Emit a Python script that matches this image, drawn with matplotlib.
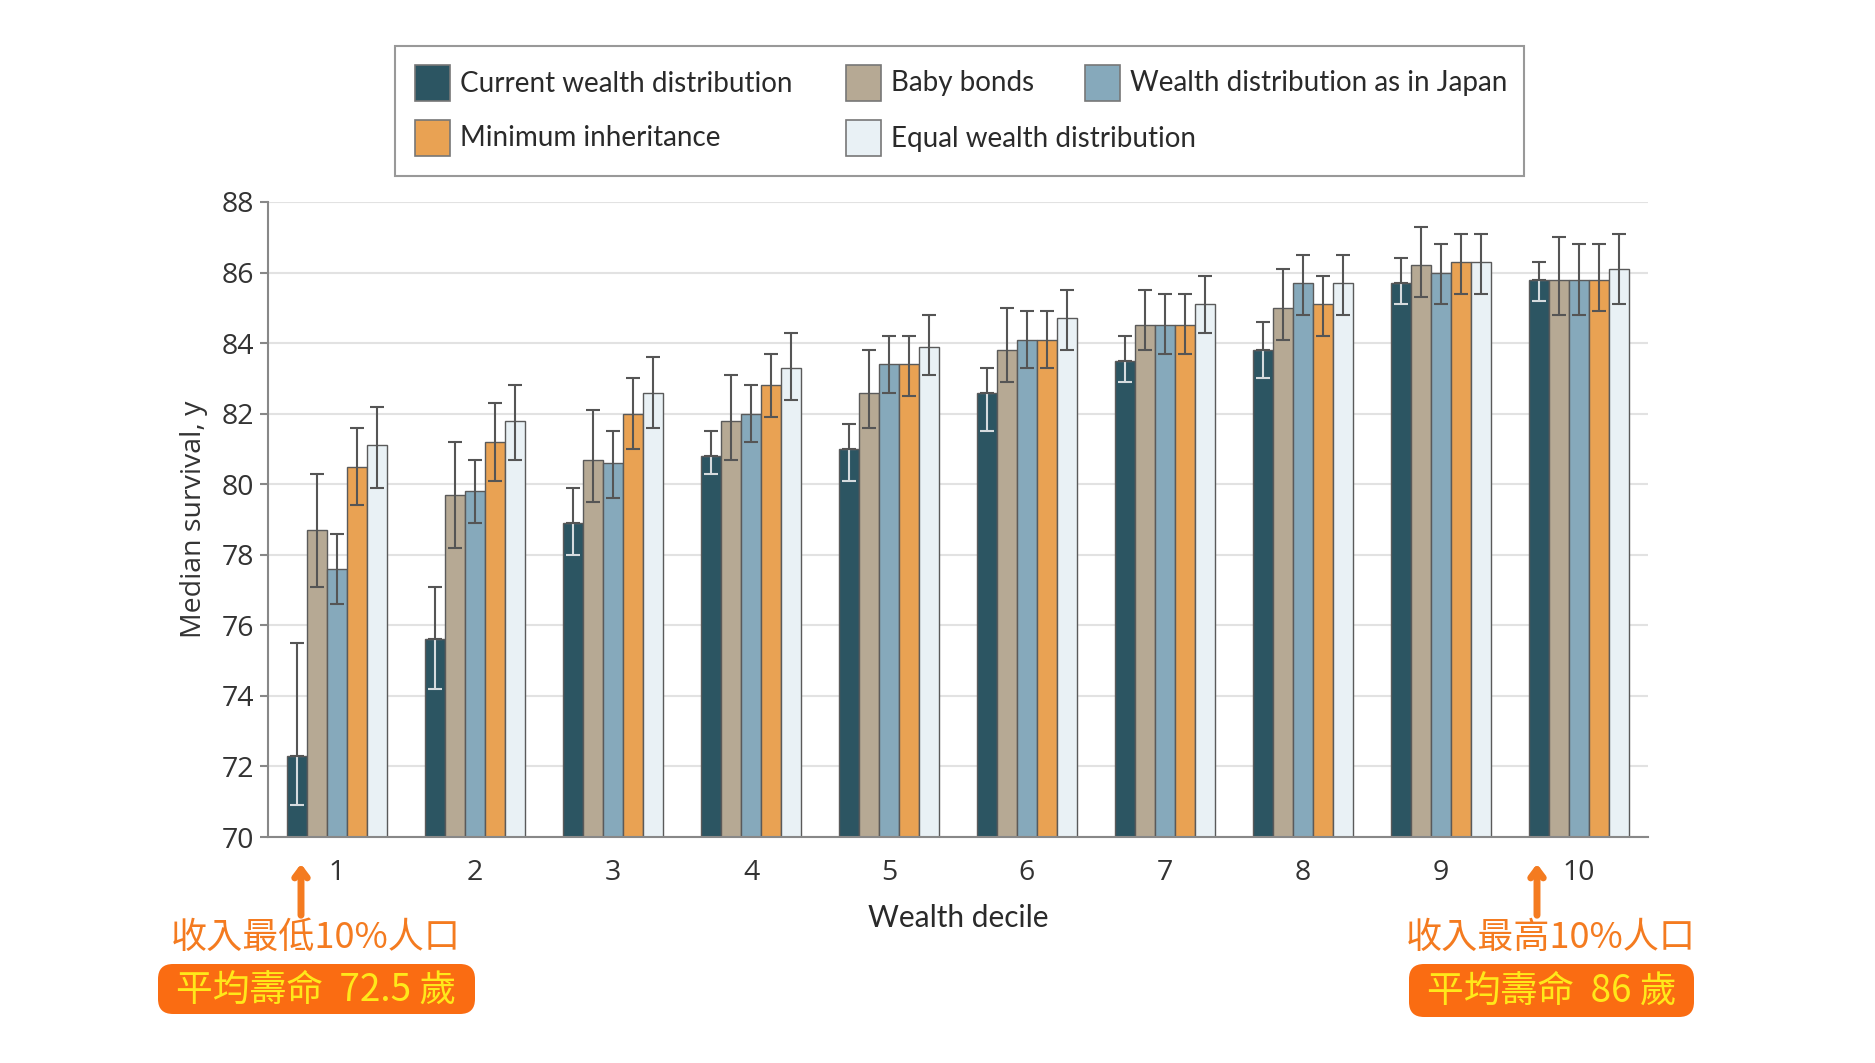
import matplotlib.pyplot as plt
import numpy as np
from matplotlib.patches import Rectangle, FancyBboxPatch

# Data
deciles = [1, 2, 3, 4, 5, 6, 7, 8, 9, 10]
series_names = ["Current wealth distribution", "Baby bonds", "Wealth distribution as in Japan",
                "Minimum inheritance", "Equal wealth distribution"]

current = [72.3, 75.6, 78.9, 80.8, 81.0, 82.6, 83.5, 83.8, 85.7, 85.8]
current_lo = [70.9, 74.2, 78.0, 80.3, 80.1, 81.5, 82.9, 83.0, 85.1, 85.2]
current_hi = [75.5, 77.1, 79.9, 81.5, 81.7, 83.3, 84.2, 84.6, 86.4, 86.3]

baby = [78.7, 79.7, 80.7, 81.8, 82.6, 83.8, 84.5, 85.0, 86.2, 85.8]
baby_lo = [77.1, 78.2, 79.5, 80.7, 81.6, 82.9, 83.8, 84.1, 85.3, 84.8]
baby_hi = [80.3, 81.2, 82.1, 83.1, 83.8, 85.0, 85.5, 86.1, 87.3, 87.0]

japan = [77.6, 79.8, 80.6, 82.0, 83.4, 84.1, 84.5, 85.7, 86.0, 85.8]
japan_lo = [76.6, 78.9, 79.6, 81.2, 82.6, 83.3, 83.7, 84.8, 85.1, 84.8]
japan_hi = [78.6, 80.7, 81.5, 82.8, 84.2, 84.9, 85.4, 86.5, 86.8, 86.8]

mininh = [80.5, 81.2, 82.0, 82.8, 83.4, 84.1, 84.5, 85.1, 86.3, 85.8]
mininh_lo = [79.4, 80.1, 81.0, 81.9, 82.5, 83.3, 83.7, 84.2, 85.4, 84.9]
mininh_hi = [81.6, 82.3, 83.0, 83.7, 84.2, 84.9, 85.4, 85.9, 87.1, 86.8]

equal = [81.1, 81.8, 82.6, 83.3, 83.9, 84.7, 85.1, 85.7, 86.3, 86.1]
equal_lo = [79.9, 80.7, 81.6, 82.4, 83.1, 83.8, 84.3, 84.8, 85.4, 85.1]
equal_hi = [82.2, 82.8, 83.6, 84.3, 84.8, 85.5, 85.9, 86.5, 87.1, 87.1]

colors = ["#2c5562", "#b6a994", "#86a9bb", "#e9a253", "#e9f1f5"]
orange = "#f47b20"

W, H = 1875, 1063
fig = plt.figure(figsize=(W / 100, H / 100), dpi=100)
ax = fig.add_axes([268 / W, 1 - 837 / H, (1648 - 268) / W, (837 - 202) / H])

def fx(x):
    return x / W

def fy(y):
    return 1 - y / H

x = np.array(deciles, dtype=float)
width = 0.145
all_vals = [(current, current_lo, current_hi), (baby, baby_lo, baby_hi),
            (japan, japan_lo, japan_hi), (mininh, mininh_lo, mininh_hi),
            (equal, equal_lo, equal_hi)]

for i, (vals, lo, hi) in enumerate(all_vals):
    vals = np.array(vals)
    pos = x + (i - 2) * width
    ax.bar(pos, vals - 70, width, bottom=70, color=colors[i], edgecolor="#5a5a5a",
           linewidth=1.0, zorder=2)
    down = vals - np.array(lo)
    up = np.array(hi) - vals
    if i == 0:
        # lower part of bar drawn light on the dark bar
        ax.errorbar(pos, vals, yerr=[down, np.zeros_like(up)], fmt="none",
                    ecolor="#d5dbde", elinewidth=1.5, capsize=5, capthick=1.5, zorder=3)
        ax.errorbar(pos, vals, yerr=[np.zeros_like(down), up], fmt="none",
                    ecolor="#555555", elinewidth=1.5, capsize=5, capthick=1.5, zorder=3)
    else:
        ax.errorbar(pos, vals, yerr=[down, up], fmt="none",
                    ecolor="#555555", elinewidth=1.5, capsize=5, capthick=1.5, zorder=3)

ax.set_xlim(0.5, 10.5)
ax.set_ylim(70, 88)
ax.set_yticks(range(70, 89, 2))
ax.set_xticks(deciles)
ax.grid(axis="y", color="#e2e2e2", linewidth=1.5, zorder=0)
ax.set_axisbelow(True)
for s in ["top", "right"]:
    ax.spines[s].set_visible(False)
ax.spines["left"].set_color("#888888")
ax.spines["bottom"].set_color("#888888")
ax.spines["left"].set_linewidth(1.5)
ax.spines["bottom"].set_linewidth(1.5)
ax.tick_params(axis="y", length=6, width=1.5, color="#888888", labelsize=20.5,
               labelcolor="#333333", pad=4)
ax.tick_params(axis="x", length=0, labelsize=20.5, labelcolor="#333333", pad=16)
for lab in ax.get_xticklabels() + ax.get_yticklabels():
    lab.set_family("Open Sans")

ax.set_ylabel("Median survival, y", fontsize=20.5, family="Open Sans", color="#333333", labelpad=10)
fig.text(fx(958), fy(918), "Wealth decile", fontsize=21.5, family="Lato", color="#2a2a2a",
         ha="center", va="center")

# legend box drawn by hand to match layout
fig.add_artist(Rectangle((fx(395), fy(176)), fx(1524) - fx(395), fy(46) - fy(176),
                         transform=fig.transFigure, fill=False, edgecolor="#999999", lw=1.5))
legend_items = [(0, 415, 83.5), (1, 846, 83.5), (2, 1085, 83.5), (3, 415, 138.5), (4, 846, 138.5)]
for idx, lx, ly in legend_items:
    fig.add_artist(Rectangle((fx(lx), fy(ly + 17)), 35 / W, 35 / H, transform=fig.transFigure,
                             facecolor=colors[idx], edgecolor="#777777", lw=1.2))
    fig.text(fx(lx + 45), fy(ly), series_names[idx], fontsize=20, family="Lato",
             color="#2a2a2a", ha="left", va="center")

# annotations
cjk = ["Noto Sans CJK TC", "DejaVu Sans"]
for ax_x, cx, box, label, box_label in [
        (301, 316, (158, 964, 475, 1014), "收入最低10%人口", "平均壽命  72.5 歲"),
        (1537, 1551, (1409, 964, 1694, 1017), "收入最高10%人口", "平均壽命  86 歲")]:
    ax.annotate("", xy=(ax_x, H - 861), xytext=(ax_x, H - 918), xycoords="figure pixels",
                textcoords="figure pixels", annotation_clip=False,
                arrowprops=dict(arrowstyle="->,head_width=0.45,head_length=0.6", lw=5,
                                color=orange))
    fig.text(fx(cx), fy(938), label, fontsize=26, family=cjk, color=orange,
             ha="center", va="center")
    x0, y0, x1, y1 = box
    fig.add_artist(FancyBboxPatch((fx(x0), fy(y1)), fx(x1) - fx(x0), fy(y0) - fy(y1),
                                  boxstyle="round,pad=0,rounding_size=0.008",
                                  transform=fig.transFigure, facecolor="#fa6c12",
                                  edgecolor="none", mutation_aspect=W / H))
    fig.text(fx((x0 + x1) / 2), fy((y0 + y1) / 2 + 1), box_label, fontsize=26.5, family=cjk,
             color="#ffe81a", ha="center", va="center")

fig.savefig("out.png", dpi=100, facecolor="white")
